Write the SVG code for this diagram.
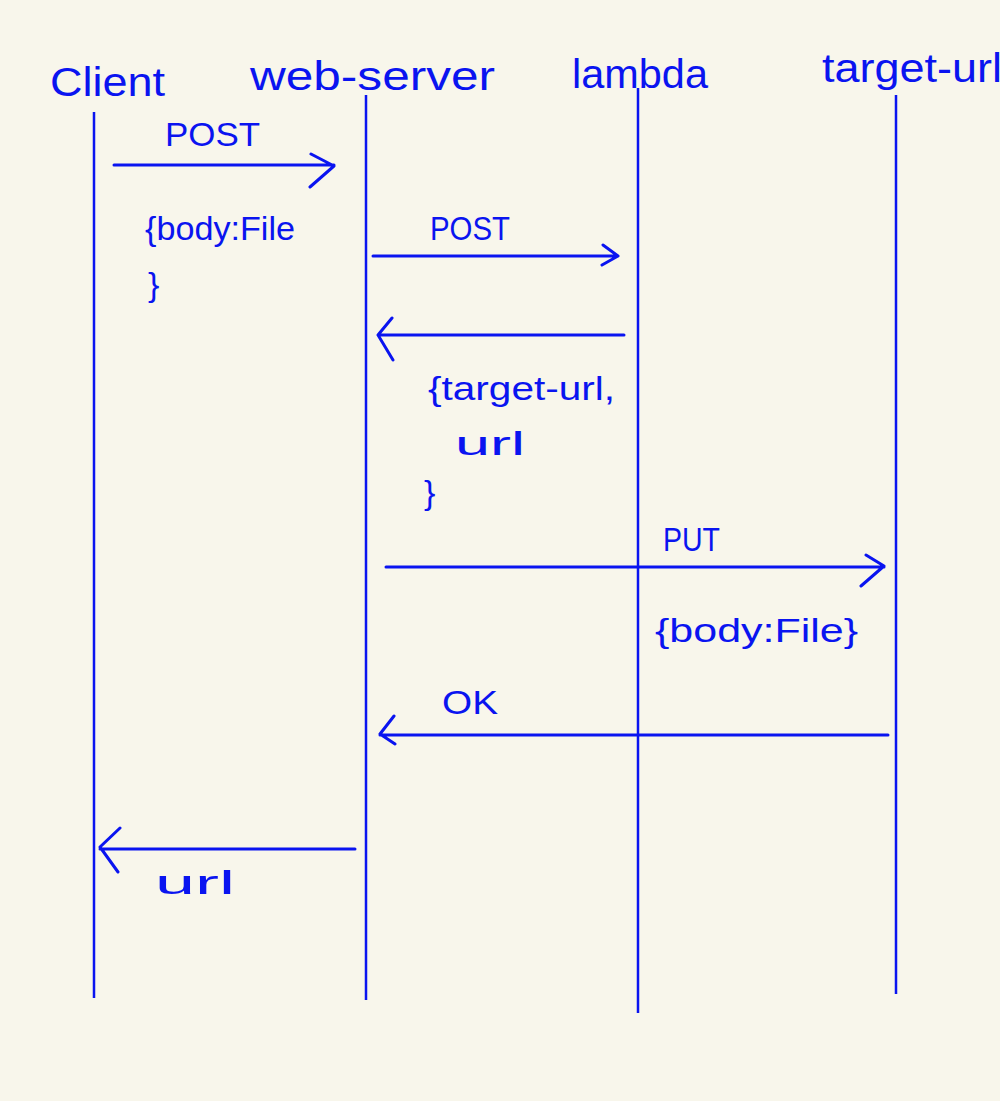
<svg xmlns="http://www.w3.org/2000/svg" width="1000" height="1101" viewBox="0 0 1000 1101">
<style>
.ll{stroke:#0a14f0;stroke-width:2.5;fill:none}
.msg{stroke:#0a14f0;stroke-width:3;fill:none;stroke-linecap:round;stroke-linejoin:round}
.hd{font-family:"Liberation Sans",Arial,sans-serif;font-size:40px;fill:#0a14f0}
.lb{font-family:"Liberation Sans",Arial,sans-serif;font-size:34px;fill:#0a14f0}
</style>
<rect width="1000" height="1101" fill="#f8f6eb"/>
<g id="client"><text class="hd" x="50" y="96" textLength="115" lengthAdjust="spacingAndGlyphs">Client</text><line class="ll" x1="94" y1="112" x2="94" y2="998"/></g>
<g id="web-server"><text class="hd" x="250" y="90" textLength="245" lengthAdjust="spacingAndGlyphs">web-server</text><line class="ll" x1="366" y1="95" x2="366" y2="1000"/></g>
<g id="lambda"><text class="hd" x="572" y="88" textLength="136" lengthAdjust="spacingAndGlyphs">lambda</text><line class="ll" x1="638" y1="88" x2="638" y2="1013"/></g>
<g id="target-url"><text class="hd" x="822" y="82" textLength="180" lengthAdjust="spacingAndGlyphs">target-url</text><line class="ll" x1="896" y1="95" x2="896" y2="994"/></g>
<g id="connectors">
<path class="msg" d="M114 165H334M311 154L334 166L310 187"/>
<text class="lb" x="165" y="146" textLength="95" lengthAdjust="spacingAndGlyphs">POST</text>
<text class="lb" x="145" y="240" textLength="150" lengthAdjust="spacingAndGlyphs">{body:File</text>
<text class="lb" x="148" y="296">}</text>
<path class="msg" d="M373 256H618M603 245L618 256L602 265"/>
<text class="lb" x="430" y="240" textLength="80" lengthAdjust="spacingAndGlyphs">POST</text>
<path class="msg" d="M624 335H380M392 318L378 335L393 360"/>
<text class="lb" x="428" y="400" textLength="187" lengthAdjust="spacingAndGlyphs">{target-url,</text>
<text class="lb" x="455" y="455" textLength="70" lengthAdjust="spacingAndGlyphs">url</text>
<text class="lb" x="424" y="504">}</text>
<path class="msg" d="M386 567H884M866 555L884 566L861 586"/>
<text class="lb" x="663" y="551" textLength="57" lengthAdjust="spacingAndGlyphs">PUT</text>
<text class="lb" x="655" y="642" textLength="203" lengthAdjust="spacingAndGlyphs">{body:File}</text>
<path class="msg" d="M888 735H380M394 716L380 734L395 744"/>
<text class="lb" x="442" y="714" textLength="56" lengthAdjust="spacingAndGlyphs">OK</text>
<path class="msg" d="M355 849H100M120 828L100 847L118 872"/>
<text class="lb" x="155" y="894" textLength="80" lengthAdjust="spacingAndGlyphs">url</text>
</g>
</svg>
